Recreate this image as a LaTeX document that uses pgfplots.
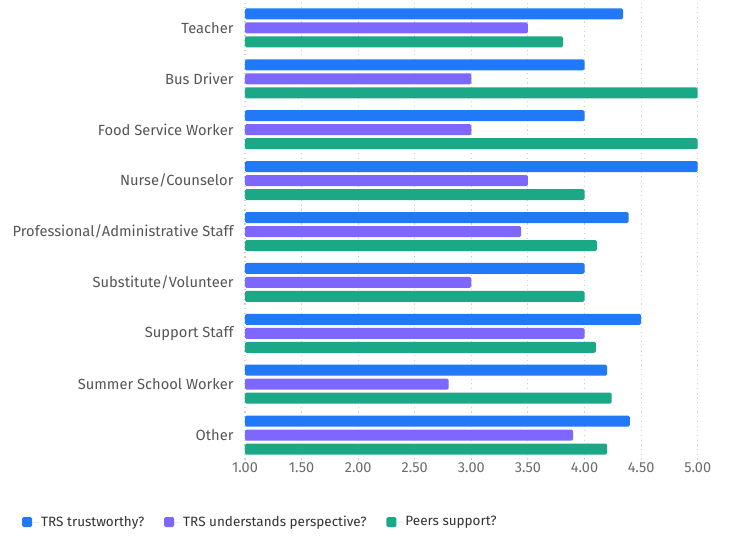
\documentclass[border=0pt]{standalone}
\usepackage{pgfplots}
\pgfplotsset{compat=1.18}
\usepackage{fontspec}
\setmainfont{Fira Sans}
\definecolor{cblue}{HTML}{2279F8}
\definecolor{cpurple}{HTML}{7D67FE}
\definecolor{cgreen}{HTML}{1BA886}
\definecolor{ctick}{HTML}{6B6B6B}
\definecolor{clab}{HTML}{555555}
\begin{document}
\begin{tikzpicture}
\useasboundingbox (-245pt,-77.5pt) rectangle (485pt,460.5pt);
\begin{axis}[
  at={(0,0)}, anchor=south west,
  scale only axis, width=452.7pt, height=458pt,
  xmin=1, xmax=5, ymin=-0.5, ymax=8.5, y dir=reverse,
  xtick={1,1.5,2,2.5,3,3.5,4,4.5,5},
  /pgf/number format/fixed, /pgf/number format/fixed zerofill,
  /pgf/number format/precision=2, /pgf/number format/assume math mode=true,
  xticklabel style={font=\fontsize{14.5}{16}\selectfont, text=ctick, yshift=1pt},
  ytick={0,1,2,3,4,5,6,7,8},
  yticklabels={Teacher, Bus Driver, Food Service Worker, Nurse/Counselor, Professional/Administrative Staff, Substitute/Volunteer, Support Staff, Summer School Worker, Other},
  yticklabel style={font=\fontsize{14.7}{16}\selectfont, text=clab, xshift=-8pt},
  xmajorgrids,
  major grid style={draw=gray!35, line width=1.1pt, dash pattern=on 1.2pt off 3.5pt},
  axis line style={draw=none},
  major tick length=0pt,
  legend columns=3,
  legend style={at={(-0.4926,-0.1343)}, anchor=west, draw=none, inner sep=0pt,
    font=\fontsize{13.5}{15}\selectfont, text=black!80,
    /tikz/every even column/.append style={column sep=18pt}},
  legend image code/.code={\fill[#1, draw=none, rounded corners=1.5pt] (0pt,-5pt) rectangle (10pt,5pt); \path (0pt,0pt) -- (17pt,0pt);},
]
\addplot[xbar, bar width=11pt, bar shift=14pt, fill=cblue, draw=none, rounded corners=1.5pt] coordinates {
(4.34,0) (4.00,1) (4.00,2) (5.00,3) (4.39,4) (4.00,5) (4.50,6) (4.20,7) (4.40,8)};
\addplot[xbar, bar width=11pt, bar shift=0pt, fill=cpurple, draw=none, rounded corners=1.5pt] coordinates {
(3.50,0) (3.00,1) (3.00,2) (3.50,3) (3.44,4) (3.00,5) (4.00,6) (2.80,7) (3.90,8)};
\addplot[xbar, bar width=11pt, bar shift=-14pt, fill=cgreen, draw=none, rounded corners=1.5pt] coordinates {
(3.81,0) (5.00,1) (5.00,2) (4.00,3) (4.11,4) (4.00,5) (4.10,6) (4.24,7) (4.20,8)};
\legend{TRS trustworthy?, TRS understands perspective?, Peers support?}
\end{axis}
\end{tikzpicture}
\end{document}
